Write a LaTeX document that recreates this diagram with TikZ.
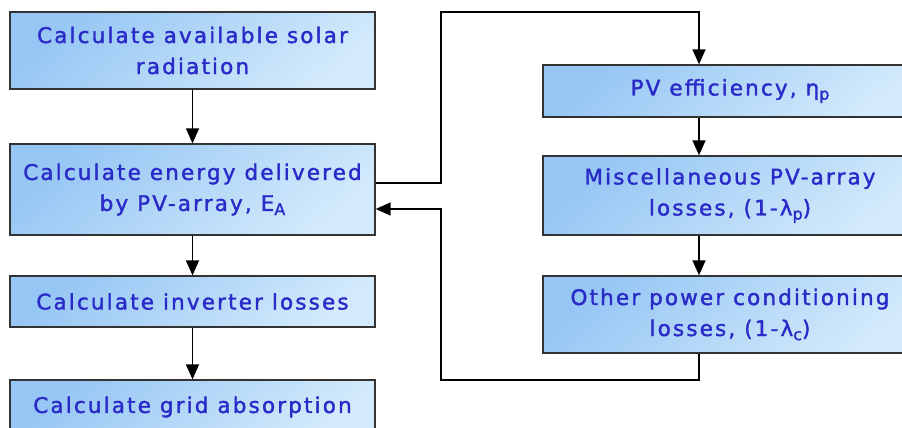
\documentclass[tikz,border=0pt]{standalone}
\usepackage{fontspec}
\setmainfont[LetterSpace=10,FakeBold=1.6]{DejaVu Sans}
\usetikzlibrary{arrows.meta,positioning}
\definecolor{boxTop}{HTML}{96C6F4}
\definecolor{boxBot}{HTML}{D2EAFB}
\definecolor{labelC}{HTML}{2A2AC8}
\definecolor{edgeC}{HTML}{333333}
\newcommand{\lowsub}[1]{\raisebox{-0.35ex}{\fontsize{16}{16}\selectfont #1}}

\begin{document}
\begin{tikzpicture}[x=1pt, y=-1pt,
    box/.style={draw=edgeC, line width=1.3pt, top color=boxTop, bottom color=boxBot,
                shading angle=40, align=center, text=labelC, inner sep=0pt,
                font=\fontsize{21.5}{31}\selectfont},
    leftbox/.style={box, minimum width=365pt},
    rightbox/.style={box, minimum width=374pt},
    arrow/.style={-{Triangle[length=15pt,width=13pt]}, line width=1.4pt, draw=black}
]
\path[use as bounding box, clip] (0,0) rectangle (902,428);

% main chain
\node[leftbox, minimum height=77pt] (solar) at (192.5,50.5) {Calculate available solar\\radiation};
\node[leftbox, minimum height=91pt] (energy) at (192.5,189.5) {Calculate energy delivered\\by PV-array, E\lowsub{A}};
\node[leftbox, minimum height=51pt] (inverter) at (192.5,301.5) {Calculate inverter losses};
\node[leftbox, minimum height=54pt] (grid) at (192.5,407) {Calculate grid absorption};

% loss factors
\node[rightbox, minimum height=52pt] (efficiency) at (730,91) {PV efficiency, η\lowsub{p}};
\node[rightbox, minimum height=79pt] (misc) at (730,195.5) {Miscellaneous PV-array\\losses, (1-λ\lowsub{p})};
\node[rightbox, minimum height=77pt] (conditioning) at (730,314.5) {Other power conditioning\\losses, (1-λ\lowsub{c})};

\coordinate (spine) at (699,0);
\coordinate (loopN) at (441,12);
\coordinate (loopS) at (441,380);

\draw[arrow] (solar) -- (energy);
\draw[arrow] (energy) -- (inverter);
\draw[arrow] (inverter) -- (grid);

\draw[arrow] ([yshift=6.5pt]energy.east) -| (loopN) -| (efficiency.north -| spine);
\draw[arrow] (efficiency.south -| spine) -- (misc.north -| spine);
\draw[arrow] (misc.south -| spine) -- (conditioning.north -| spine);
\draw[arrow] (conditioning.south -| spine) |- (loopS) |- ([yshift=-19.5pt]energy.east);
\end{tikzpicture}
\end{document}
